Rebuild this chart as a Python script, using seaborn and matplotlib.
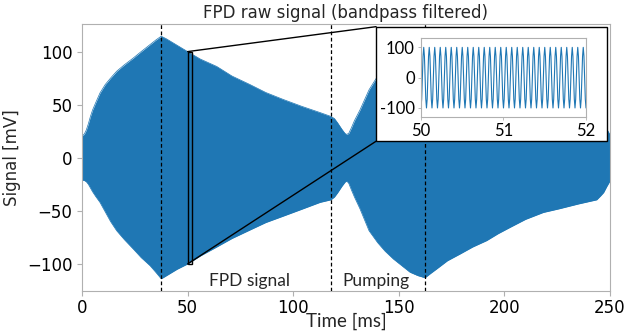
import numpy as np
import matplotlib
matplotlib.use('Agg')
import matplotlib.pyplot as plt
from matplotlib.patches import Rectangle, ConnectionPatch
import seaborn as sns

# Envelope of the bandpass filtered FPD signal
env_t = [0, 1, 2, 3, 4, 5, 6.5, 8.5, 11, 13.5, 16.4, 20, 24.3, 28, 32.2, 35, 37.5,
         40, 45, 50, 56, 63.8, 71, 79.5, 87, 95.2, 104, 112.7, 117.8,
         119.5, 121, 123, 124.5, 125.3, 126.3, 127.5, 129, 131.6, 135.9, 140, 143.5,
         147.4, 151, 155.3, 159, 162.4, 165, 167.9, 173, 179, 185, 191.6, 197,
         202.7, 210, 218.4, 226, 235, 243.7, 245.5, 247, 248.5, 250]
env_upper = [21, 22, 26, 32, 39, 45, 52, 61, 69, 75, 81.5, 87.5, 94, 100, 106.6, 111, 114.5,
             112, 106, 100, 93, 86, 77, 69, 61.5, 55, 48.5, 42.6, 39,
             37, 33, 27, 23, 22, 23, 28, 35, 45, 64, 77, 86,
             95, 102, 108, 111.5, 113, 109, 105, 97, 90.6, 84, 78, 71.5,
             65.5, 58, 51.5, 48, 43.5, 39.6, 36, 32, 27, 21.8]
env_lower = [-21, -21.3, -22.5, -25, -28.5, -32, -36.5, -42, -51, -60, -68.7, -77, -86, -94, -101.6, -108, -114,
             -111, -105, -100, -92.5, -84, -76, -68, -61, -55, -48.5, -42, -39.6,
             -37, -33, -27, -23, -21.8, -24, -30, -37, -48, -68.7, -80, -88,
             -95.3, -101, -107.8, -111, -113, -109, -104.7, -97, -90.6, -84, -78, -71.5,
             -65.5, -58, -51.5, -48, -43.5, -39.6, -36, -32.7, -27, -21.8]

# Event markers (ms) and region labels
event_t = [37.5, 117.8, 162.4]
region_labels = ['FPD signal', 'Pumping']
region_t = [79.5, 139.2]

# Zoomed window 50-52 ms: one cycle of samples, 30 cycles seen in 2 ms
zoom_window = [50, 52]
inset_cycle = [-100, -71, 0, 71, 100, 71, 0, -71]
inset_n_cycles = 30

sns.set_style('ticks')
plt.rcParams['font.family'] = ['DejaVu Sans']
plt.rcParams['axes.edgecolor'] = '#b0b0b0'
plt.rcParams['xtick.color'] = '#b0b0b0'
plt.rcParams['ytick.color'] = '#b0b0b0'
plt.rcParams['xtick.labelcolor'] = 'black'
plt.rcParams['ytick.labelcolor'] = 'black'

blue = '#1f77b4'

fig = plt.figure(figsize=(6.26, 3.31), dpi=100)
ax = fig.add_axes([0.131, 0.1208, 0.8434, 0.8067])

ax.fill_between(env_t, env_lower, env_upper, color=blue, lw=0)
sns.lineplot(x=env_t, y=env_upper, ax=ax, color=blue, lw=0.5)
sns.lineplot(x=env_t, y=env_lower, ax=ax, color=blue, lw=0.5)

for t in event_t:
    ax.axvline(t, color='black', ls=(0, (3, 2)), lw=0.9, zorder=3)

for lab, t in zip(region_labels, region_t):
    ax.text(t, -116, lab, ha='center', va='center', fontsize=12.5, family='Lato', zorder=3)

ax.set_xlim(0, 250)
ax.set_ylim(-125.5, 126)
ax.set_xticks([0, 50, 100, 150, 200, 250])
ax.set_yticks([-100, -50, 0, 50, 100])
ax.tick_params(labelsize=12, length=3.5, width=0.8)
ax.tick_params(axis='x', pad=2)
ax.set_title('FPD raw signal (bandpass filtered)', fontsize=12, pad=4)
ax.set_ylabel('Signal [mV]', fontsize=12)
ax.set_xlabel('Time [ms]', fontsize=13.5, family='Lato', labelpad=-3)

# zoom marker rectangle
ax.add_patch(Rectangle((zoom_window[0], -100), zoom_window[1] - zoom_window[0], 200,
                       fill=False, ec='black', lw=1, zorder=4))

# white box holding the inset
box_x0, box_y0, box_w, box_h = 0.557, 0.561, 0.4367, 0.429
ax.add_patch(Rectangle((box_x0, box_y0), box_w, box_h, transform=ax.transAxes,
                       fc='white', ec='black', lw=1, zorder=6, clip_on=False))
for yb, yv in [(box_y0 + box_h, 100), (box_y0, -100)]:
    con = ConnectionPatch(xyA=(zoom_window[0], yv), coordsA=ax.transData,
                          xyB=(box_x0, yb), coordsB=ax.transAxes,
                          color='black', lw=1, zorder=5)
    ax.add_artist(con)

# inset axes
axin = fig.add_axes([0.6725, 0.6464, 0.2636, 0.238])
inset_v = np.array(inset_cycle * inset_n_cycles + [inset_cycle[0]])
inset_t = np.linspace(zoom_window[0], zoom_window[1], len(inset_v))
sns.lineplot(x=inset_t, y=inset_v, ax=axin, color=blue, lw=0.8)
axin.set_xlim(zoom_window)
axin.set_ylim(-130, 130)
axin.set_xticks([50, 51, 52], labels=['50', '51', '52'], fontsize=12, fontfamily='Lato')
axin.set_yticks([-100, 0, 100], labels=['-100', '0', '100'], fontsize=12, fontfamily='Lato')
axin.tick_params(length=2.5, width=0.6, pad=2)
for s in axin.spines.values():
    s.set_linewidth(0.8)

fig.savefig('out.png', dpi=100)
